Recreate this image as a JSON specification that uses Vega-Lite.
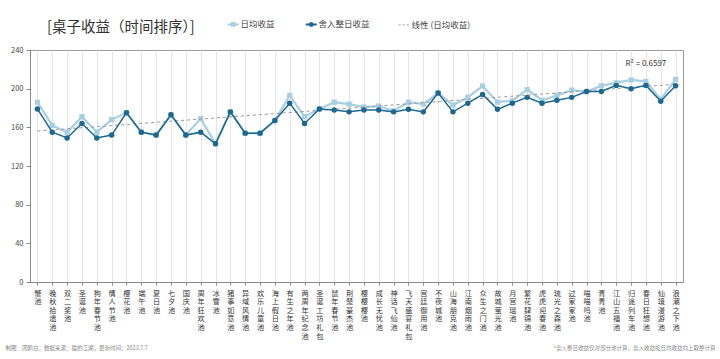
{
  "$schema": "https://vega.github.io/schema/vega-lite/v6.json",
  "width": 653,
  "height": 232,
  "autosize": "none",
  "padding": {"left": 30, "top": 50, "right": 37, "bottom": 77},
  "background": "white",
  "title": {
    "text": "[桌子收益（时间排序）]",
    "anchor": "start",
    "frame": "group",
    "dx": 17,
    "offset": -15,
    "fontSize": 14.5,
    "fontWeight": "normal",
    "font": "Noto Sans CJK SC",
    "color": "#333333"
  },
  "config": {
    "view": {"stroke": "#9a9a9a", "strokeWidth": 1},
    "font": "Noto Sans CJK SC"
  },
  "data": {
    "values": [
      {"pool": "蟹池", "日均收益": 186, "舍入整日收益": 179, "线性 (日均收益)": 156.2},
      {"pool": "晚秋拾遗池", "日均收益": 162, "舍入整日收益": 155},
      {"pool": "双二奖池", "日均收益": 155, "舍入整日收益": 149},
      {"pool": "圣诞池", "日均收益": 171, "舍入整日收益": 164},
      {"pool": "狗年春节池", "日均收益": 155, "舍入整日收益": 149},
      {"pool": "情人节池", "日均收益": 168, "舍入整日收益": 152},
      {"pool": "樱花池", "日均收益": 175, "舍入整日收益": 175},
      {"pool": "端午池", "日均收益": 155, "舍入整日收益": 155},
      {"pool": "夏日池", "日均收益": 152, "舍入整日收益": 152},
      {"pool": "七夕池", "日均收益": 173, "舍入整日收益": 173},
      {"pool": "国庆池", "日均收益": 152, "舍入整日收益": 152},
      {"pool": "周年狂欢池", "日均收益": 169, "舍入整日收益": 155},
      {"pool": "冰雪池", "日均收益": 143, "舍入整日收益": 143},
      {"pool": "猪事如意池", "日均收益": 176, "舍入整日收益": 176},
      {"pool": "异域风情池", "日均收益": 154, "舍入整日收益": 154},
      {"pool": "欢乐儿童池", "日均收益": 154, "舍入整日收益": 154},
      {"pool": "海上假日池", "日均收益": 167, "舍入整日收益": 167},
      {"pool": "有生之年池", "日均收益": 193, "舍入整日收益": 185},
      {"pool": "两周年纪念池", "日均收益": 171, "舍入整日收益": 164},
      {"pool": "圣诞工坊礼包", "日均收益": 179, "舍入整日收益": 179},
      {"pool": "鼠年春节池", "日均收益": 186, "舍入整日收益": 178},
      {"pool": "荆楚豪杰池", "日均收益": 184, "舍入整日收益": 176},
      {"pool": "樱樱樱池", "日均收益": 181, "舍入整日收益": 178},
      {"pool": "成长无忧池", "日均收益": 182, "舍入整日收益": 178},
      {"pool": "神话飞仙池", "日均收益": 177, "舍入整日收益": 176},
      {"pool": "飞天盛宴礼包", "日均收益": 186, "舍入整日收益": 178.6},
      {"pool": "宫廷御用池", "日均收益": 184, "舍入整日收益": 176},
      {"pool": "不夜城池", "日均收益": 195.5, "舍入整日收益": 195.5},
      {"pool": "山海朋克池", "日均收益": 183, "舍入整日收益": 176},
      {"pool": "江南烟雨池", "日均收益": 191, "舍入整日收益": 185},
      {"pool": "众生之门池", "日均收益": 202.7, "舍入整日收益": 194},
      {"pool": "故城萤光池", "日均收益": 186, "舍入整日收益": 178.6},
      {"pool": "月宫瑶池", "日均收益": 187.5, "舍入整日收益": 185},
      {"pool": "繁花肆锦池", "日均收益": 199, "舍入整日收益": 191},
      {"pool": "虎虎迎春池", "日均收益": 188, "舍入整日收益": 185},
      {"pool": "琉光之森池", "日均收益": 193, "舍入整日收益": 188},
      {"pool": "过家家池", "日均收益": 198.5, "舍入整日收益": 191},
      {"pool": "喵喵呜池", "日均收益": 197, "舍入整日收益": 197},
      {"pool": "青青池", "日均收益": 203, "舍入整日收益": 197},
      {"pool": "江山五福池", "日均收益": 206, "舍入整日收益": 203.4},
      {"pool": "归途列车池", "日均收益": 209, "舍入整日收益": 200},
      {"pool": "春日狂想池", "日均收益": 207.5, "舍入整日收益": 203.4},
      {"pool": "仙境漫游池", "日均收益": 189, "舍入整日收益": 187},
      {"pool": "浪潮之下池", "日均收益": 209.6, "舍入整日收益": 203, "线性 (日均收益)": 204.6}
    ]
  },
  "transform": [
    {"fold": ["日均收益", "舍入整日收益", "线性 (日均收益)"], "as": ["series", "value"]},
    {"filter": "isValid(datum.value)"}
  ],
  "encoding": {
    "x": {
      "field": "pool",
      "type": "nominal",
      "sort": null,
      "scale": {"type": "point", "padding": 0.5},
      "axis": {
        "title": "制图：团鸥白；数据来源：猫的江湖；更新时间：2023.7.7",
        "titleFontSize": 5.5,
        "titleFontWeight": "normal",
        "titleColor": "#888888",
        "titleAnchor": "start",
        "titleAlign": "left",
        "titleBaseline": "middle",
        "titleX": -25,
        "titleY": 65,
        "labelAngle": 0,
        "labelExpr": "split(datum.label, '')",
        "labelFontSize": 7.2,
        "labelLineHeight": 8.6,
        "labelColor": "#333333",
        "labelBaseline": "top",
        "labelPadding": 4,
        "labelOverlap": false,
        "labelBound": false,
        "labelFlush": false,
        "tickSize": 3,
        "tickColor": "#888888",
        "domainColor": "#888888",
        "grid": true,
        "gridColor": "#e6e6e6",
        "gridWidth": 1,
        "encode": {
          "labels": {"update": {"lineHeight": {"value": 8.6}}}
        }
      }
    },
    "y": {
      "field": "value",
      "type": "quantitative",
      "scale": {"domain": [0, 240], "nice": false, "zero": true},
      "axis": {
        "values": [0, 40, 80, 120, 160, 200, 240],
        "grid": false,
        "title": "*舍入整日收益仅对部分池计算，舍入收益按日均收益向上取整计算",
        "titleAngle": 0,
        "titleFontSize": 5.5,
        "titleFontWeight": "normal",
        "titleColor": "#888888",
        "titleAlign": "right",
        "titleBaseline": "middle",
        "titleAnchor": null,
        "titleX": 685,
        "titleY": 297,
        "labelFontSize": 7.5,
        "labelColor": "#444444",
        "labelPadding": 3,
        "tickSize": 4,
        "tickColor": "#888888",
        "domainColor": "#888888"
      }
    },
    "color": {
      "field": "series",
      "type": "nominal",
      "scale": {
        "domain": ["日均收益", "舍入整日收益", "线性 (日均收益)"],
        "range": ["#a9cfe2", "#1c6891", "#9a9a9a"]
      },
      "legend": {
        "orient": "none",
        "legendX": 199,
        "legendY": -30,
        "direction": "horizontal",
        "title": null,
        "labelFontSize": 8.5,
        "labelColor": "#444444",
        "labelFont": "Noto Sans CJK SC",
        "symbolSize": 121,
        "symbolStrokeWidth": 2,
        "columnPadding": 26,
        "labelOffset": 3,
        "encode": {
          "symbols": {
            "update": {
              "shape": {"signal": "datum.value === '日均收益' ? 'M-1,0H1M-0.26,-0.26H0.26V0.26H-0.26Z' : datum.value === '舍入整日收益' ? 'M-1,0H1M0.27,0A0.27,0.27,0,1,1,-0.27,0A0.27,0.27,0,1,1,0.27,0Z' : 'M-1,0H1'"},
              "strokeDash": {"signal": "datum.value === '线性 (日均收益)' ? [2, 2] : []"},
              "strokeWidth": {"signal": "datum.value === '线性 (日均收益)' ? 1 : 2"},
              "fill": {"scale": "color", "field": "value"},
              "fillOpacity": {"value": 1},
              "opacity": {"value": 1}
            }
          }
        }
      }
    }
  },
  "layer": [
    {
      "transform": [{"filter": "datum.series === '日均收益'"}],
      "mark": {"type": "line", "strokeWidth": 2.2}
    },
    {
      "transform": [{"filter": "datum.series === '日均收益'"}],
      "mark": {"type": "point", "shape": "square", "filled": true, "size": 28, "opacity": 1}
    },
    {
      "transform": [{"filter": "datum.series === '线性 (日均收益)'"}],
      "mark": {"type": "line", "strokeWidth": 1, "strokeDash": [3, 3]}
    },
    {
      "transform": [{"filter": "datum.series === '舍入整日收益'"}],
      "mark": {"type": "line", "strokeWidth": 1.5}
    },
    {
      "transform": [{"filter": "datum.series === '舍入整日收益'"}],
      "mark": {"type": "point", "shape": "circle", "filled": true, "size": 30, "opacity": 1}
    },
    {
      "data": {"values": [{"pool": "春日狂想池", "value": 225.4, "label": "R² = 0.6597"}]},
      "transform": [],
      "mark": {"type": "text", "fontSize": 8, "color": "#333333", "baseline": "middle", "align": "center"},
      "encoding": {
        "text": {"field": "label"},
        "color": {"value": "#333333"}
      }
    }
  ]
}
